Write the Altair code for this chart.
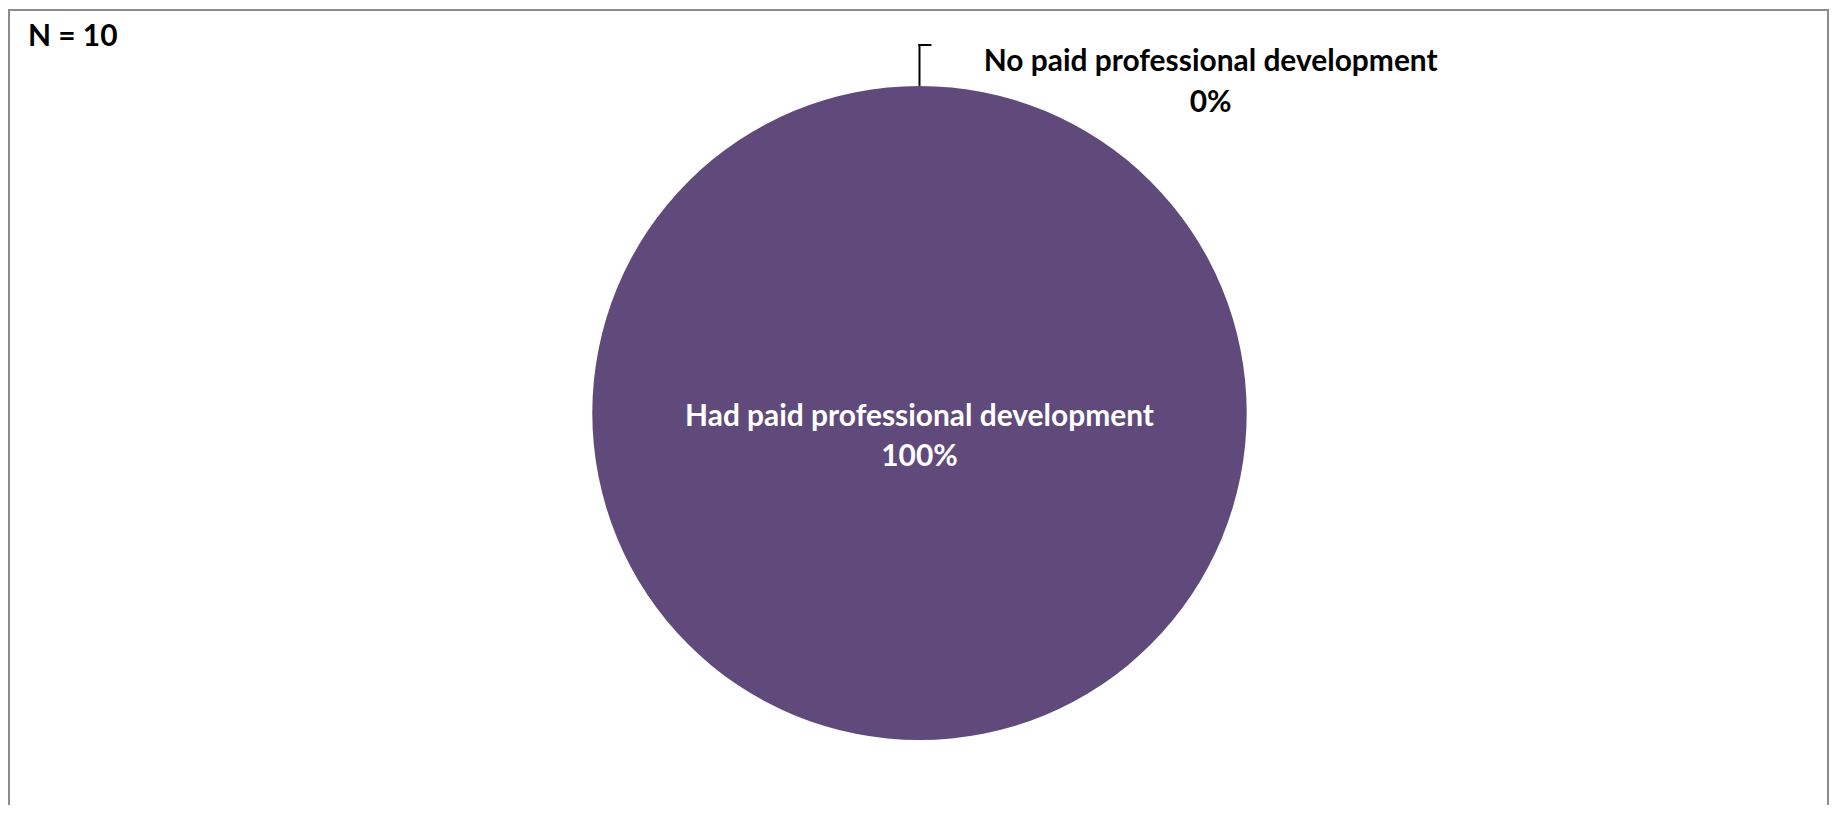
import altair as alt
import pandas as pd

categories = ["Had paid professional development", "No paid professional development"]
counts = [10, 0]
percents = [100, 0]
colors = ["#604A7B", "#4F81BD"]
note = "N = 10"

df = pd.DataFrame({
    "category": categories,
    "count": counts,
    "pct": percents,
    "order": [0, 1],
})
df["label"] = [f"{c}\n{p}%" for c, p in zip(categories, percents)]

W, H = 1826, 798
CX, CY, R = 914, 405, 328
FONT = "Lato"
FS = 30

base = alt.Chart(df)

pie = base.mark_arc(radius=R, stroke=None).encode(
    theta=alt.Theta("count:Q", stack=True),
    order=alt.Order("order:Q"),
    color=alt.Color("category:N", scale=alt.Scale(domain=categories, range=colors), legend=None),
    x=alt.value(CX),
    y=alt.value(CY),
)

lbl_in = alt.Chart(df[df["order"] == 0]).mark_text(
    font=FONT, fontSize=FS, fontWeight="bold", color="white",
    align="center", baseline="middle", lineBreak="\n", lineHeight=40,
).encode(text="label:N", x=alt.value(CX), y=alt.value(409))

lbl_out = alt.Chart(df[df["order"] == 1]).mark_text(
    font=FONT, fontSize=FS, fontWeight="bold", color="black",
    align="center", baseline="middle", lineBreak="\n", lineHeight=41,
).encode(text="label:N", x=alt.value(1206), y=alt.value(53))

leader_v = alt.Chart(df.head(1)).mark_rule(color="black", strokeWidth=2).encode(
    x=alt.value(CX), y=alt.value(35), y2=alt.value(CY - R)
)
leader_h = alt.Chart(df.head(1)).mark_rule(color="black", strokeWidth=2).encode(
    x=alt.value(CX - 1), x2=alt.value(CX + 12), y=alt.value(36)
)

n_text = alt.Chart(pd.DataFrame({"t": [note]})).mark_text(
    font=FONT, fontSize=FS, fontWeight="bold", color="black",
    align="left", baseline="alphabetic",
).encode(text="t:N", x=alt.value(20), y=alt.value(37))

border_col = "#8c8c8c"
b_left = alt.Chart(df.head(1)).mark_rule(color=border_col, strokeWidth=2).encode(
    x=alt.value(1), y=alt.value(0), y2=alt.value(H)
)
b_top = alt.Chart(df.head(1)).mark_rule(color=border_col, strokeWidth=2).encode(
    x=alt.value(0), x2=alt.value(W), y=alt.value(1)
)
b_right = alt.Chart(df.head(1)).mark_rule(color=border_col, strokeWidth=2).encode(
    x=alt.value(W - 1), y=alt.value(0), y2=alt.value(H)
)

chart = alt.layer(
    pie, lbl_in, lbl_out, leader_v, leader_h, n_text, b_left, b_top, b_right
).properties(
    width=W, height=H, padding=0, autosize=alt.AutoSizeParams(type="none"),
    background="white",
).configure_view(stroke=None)

chart.save("out.html", embed_options={"renderer": "svg", "actions": False})
